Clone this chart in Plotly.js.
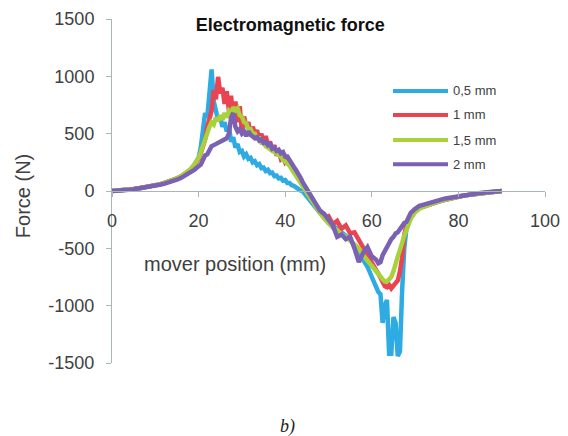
<!DOCTYPE html>
<html>
<head>
<meta charset="utf-8">
<script src="https://cdn.plot.ly/plotly-3.0.1.min.js"></script>
<style>html,body{margin:0;padding:0;background:#fff;}#chart{width:568px;height:436px;}</style>
</head>
<body>
<div id="chart"></div>
<script>
// mover position (mm)
const position = [0,1,2,3,4,5,6,7,8,9,10,11,12,13,14,15,16,17,18,19,20,
20.5,21,21.5,22,22.5,23,23.5,24,24.5,25,25.5,26,26.5,27,27.5,28,28.5,29,29.5,30,30.5,31,31.5,32,32.5,33,33.5,34,34.5,35,35.5,36,36.5,37,37.5,38,38.5,39,39.5,40,40.5,41,41.5,42,42.5,43,43.5,44,44.5,45,
46,47,48,49,50,51,52,53,54,55,56,57,58,59,60,
60.5,61,61.5,62,62.5,63,63.5,64,64.5,65,65.5,66,66.5,67,67.5,68,
69,70,71,72,73,74,75,76,77,78,79,80,81,82,83,84,85,86,87,88,89,90];

// Force (N) per air gap
const force05 = [0,2,5,8,12,17,22,28,35,42,50,58,68,80,92,108,128,150,180,225,290,
380,520,680,640,900,1060,780,700,620,640,560,600,520,560,430,470,380,410,340,350,300,320,280,290,250,260,225,235,200,205,175,185,155,160,130,135,110,115,90,95,70,70,50,45,30,20,5,0,-25,-50,
-100,-150,-190,-230,-280,-300,-330,-360,-390,-420,-480,-520,-600,-660,-750,
-800,-840,-880,-900,-1150,-1000,-950,-1420,-1420,-1100,-1150,-1440,-1400,-870,-500,-330,
-230,-180,-150,-135,-120,-105,-95,-85,-75,-65,-55,-48,-42,-36,-30,-25,-20,-15,-12,-8,-5,0];

const force1 = [0,2,5,8,12,17,22,28,35,42,50,58,68,80,94,110,128,152,182,225,280,
330,380,450,560,620,700,880,800,995,850,900,760,870,700,830,640,780,600,740,520,650,560,600,480,560,500,530,450,500,420,480,400,430,360,400,310,340,280,300,250,270,230,220,200,180,140,100,60,30,0,
-60,-120,-170,-230,-220,-290,-260,-330,-300,-370,-360,-430,-500,-560,-640,
-660,-690,-720,-760,-800,-830,-840,-820,-850,-830,-800,-780,-700,-580,-380,-300,
-220,-175,-150,-135,-120,-108,-96,-86,-76,-66,-56,-48,-42,-36,-30,-25,-20,-15,-12,-8,-5,0];

const force15 = [0,2,5,8,12,17,22,28,35,42,50,58,68,80,94,110,130,155,185,230,290,
340,400,450,500,560,600,580,640,610,660,620,680,640,700,680,730,700,720,660,650,600,590,540,540,500,500,460,460,420,420,390,380,360,350,340,330,320,300,270,260,240,220,190,160,130,100,70,40,15,-10,
-70,-130,-190,-240,-280,-320,-340,-380,-400,-430,-470,-500,-560,-610,-660,
-680,-710,-730,-750,-770,-790,-790,-770,-750,-700,-620,-570,-515,-440,-390,-340,
-240,-185,-155,-138,-122,-108,-96,-86,-76,-66,-56,-48,-42,-36,-30,-25,-20,-15,-12,-8,-5,0];

const force2 = [0,1,4,7,10,15,20,25,32,38,46,54,62,72,84,98,115,135,158,185,215,
230,270,310,320,360,390,400,410,420,430,440,450,460,500,640,680,560,520,540,500,520,480,520,490,480,460,470,440,450,420,430,400,410,370,380,350,360,330,340,300,300,270,250,220,190,150,120,80,50,15,
-50,-110,-170,-200,-250,-300,-400,-380,-420,-400,-500,-620,-540,-490,-570,
-580,-600,-630,-620,-560,-520,-480,-440,-420,-400,-370,-360,-330,-300,-280,-270,
-190,-155,-130,-118,-105,-95,-85,-75,-65,-58,-52,-45,-40,-34,-28,-24,-18,-14,-10,-7,-4,0];

const seriesNames = ['0,5 mm', '1 mm', '1,5 mm', '2 mm'];
const seriesColors = ['#2eabe2', '#ea4351', '#a9d13b', '#7a61b3'];
const seriesValues = [force05, force1, force15, force2];

const xTickVals = [0, 20, 40, 60, 80, 100];
const yTickVals = [-1500, -1000, -500, 0, 500, 1000, 1500];
const yTickText = ['-1500', '-1000', '-500', '0', '500', '1000', '1500'];

const chartTitle = 'Electromagnetic force';
const xTitle = 'mover position (mm)';
const yTitle = 'Force (N)';
const caption = 'b)';

const FONT = 'Liberation Sans, Arial, sans-serif';
const TXT = '#404040';
const AX = '#a7b7b5';

const traces = seriesValues.map((vals, i) => ({
  type: 'scatter', mode: 'lines', x: position, y: vals, name: seriesNames[i],
  line: {color: seriesColors[i], width: 4.5}, showlegend: false
}));

// legend drawn as short lines + labels (paper coordinates)
const legY = [0.791, 0.721, 0.648, 0.578];
const shapes = seriesNames.map((n, i) => ({
  type: 'line', xref: 'paper', yref: 'paper', x0: 0.649, x1: 0.776, y0: legY[i], y1: legY[i],
  line: {color: seriesColors[i], width: 4}
}));
const annotations = seriesNames.map((n, i) => ({
  xref: 'paper', yref: 'paper', x: 0.783, y: legY[i], xanchor: 'left', yanchor: 'middle',
  text: n, showarrow: false, font: {family: FONT, size: 13, color: TXT}
}));
annotations.push({xref: 'paper', yref: 'paper', x: 0.285, y: 0.288, xanchor: 'center', yanchor: 'middle',
  text: xTitle, showarrow: false, font: {family: FONT, size: 20, color: TXT}});
annotations.push({xref: 'paper', yref: 'paper', x: -0.2055, y: 0.485, xanchor: 'center', yanchor: 'middle',
  text: yTitle, textangle: -90, showarrow: false, font: {family: FONT, size: 20, color: TXT}});
annotations.push({xref: 'paper', yref: 'paper', x: 0.405, y: -0.186, xanchor: 'center', yanchor: 'middle',
  text: caption, showarrow: false, font: {family: 'Liberation Serif, DejaVu Serif, serif', size: 18, color: '#222', style: 'italic'}});

const layout = {
  width: 568, height: 436,
  margin: {l: 112, r: 23, t: 19, b: 73, pad: 0},
  paper_bgcolor: '#ffffff', plot_bgcolor: '#ffffff',
  showlegend: false,
  title: {text: '<b>' + chartTitle + '</b>', xref: 'container', yref: 'container', x: 0.511, y: 0.9427,
    xanchor: 'center', yanchor: 'middle', font: {family: FONT, size: 18, color: '#111'}},
  xaxis: {range: [0, 100], tickmode: 'array', tickvals: xTickVals, showgrid: false, zeroline: false,
    showline: true, linecolor: AX, linewidth: 1, ticks: 'outside', ticklen: 5, tickcolor: AX,
    anchor: 'free', position: 0.5, side: 'bottom', ticklabelstandoff: 8,
    tickfont: {family: FONT, size: 18, color: TXT}},
  yaxis: {range: [-1500, 1500], tickmode: 'array', tickvals: yTickVals, ticktext: yTickText,
    showgrid: false, zeroline: false, showline: true, linecolor: AX, linewidth: 1,
    ticks: 'outside', ticklen: 5, tickcolor: AX, ticklabelstandoff: 8,
    tickfont: {family: FONT, size: 18, color: TXT}},
  shapes: shapes,
  annotations: annotations
};

Plotly.newPlot('chart', traces, layout, {staticPlot: true, displayModeBar: false});
</script>
</body>
</html>
